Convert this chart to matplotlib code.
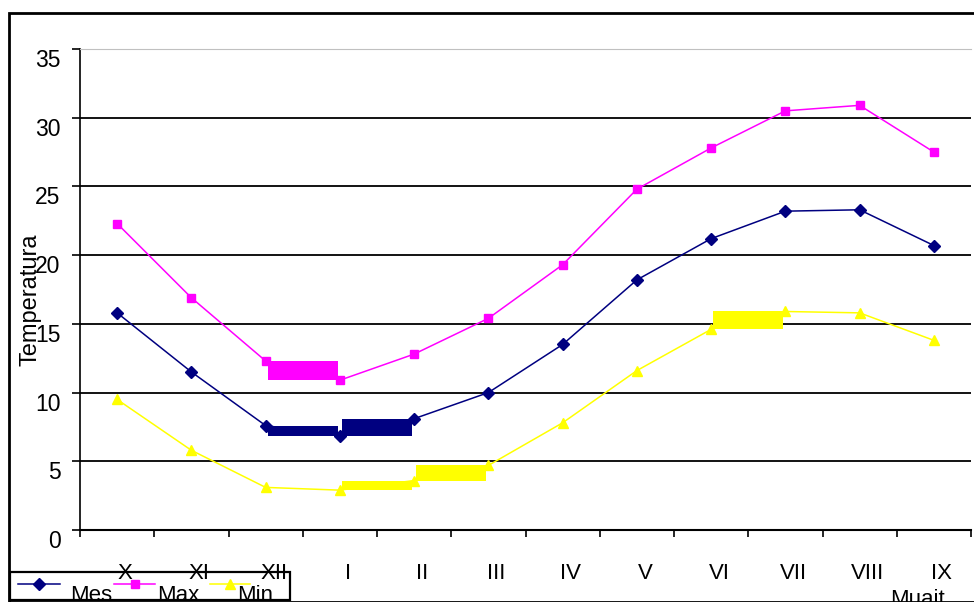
import matplotlib

matplotlib.use("Agg")
import matplotlib.pyplot as plt
import matplotlib.transforms as mtransforms
from matplotlib.lines import Line2D
from matplotlib.patches import Rectangle

plt.rcParams["font.family"] = ["Liberation Sans", "DejaVu Sans"]

# data
months = ["X", "XI", "XII", "I", "II", "III", "IV", "V", "VI", "VII", "VIII", "IX"]
mes = [15.8, 11.5, 7.6, 6.85, 8.1, 10.0, 13.5, 18.2, 21.2, 23.2, 23.3, 20.7]
tmax = [22.3, 16.9, 12.3, 10.9, 12.8, 15.4, 19.3, 24.8, 27.8, 30.5, 30.9, 27.5]
tmin = [9.5, 5.8, 3.1, 2.9, 3.6, 4.7, 7.8, 11.6, 14.6, 15.9, 15.8, 13.8]
# segments the old renderer filled as solid blocks (start index of segment)
mes_blocks = [2, 3]
max_blocks = [2]
min_blocks = [3, 4, 8]

W, H = 974, 602
fig = plt.figure(figsize=(W / 100, H / 100), dpi=100)


def px(x0, y0, x1, y1):
    return [x0 / W, 1 - y1 / H, (x1 - x0) / W, (y1 - y0) / H]


ax = fig.add_axes(px(80, 49, 971, 530))
x = list(range(len(months)))

series = [
    ("Mes", mes, "#000080", "D", 6.5, mes_blocks),
    ("Max", tmax, "#FF00FF", "s", 6, max_blocks),
    ("Min", tmin, "#FFFF00", "^", 7.5, min_blocks),
]

for name, vals, col, mk, ms, blocks in series:
    for i in blocks:
        lo, hi = min(vals[i], vals[i + 1]), max(vals[i], vals[i + 1])
        ax.fill_between([x[i] + 0.03, x[i + 1] - 0.03], lo, hi, color=col, lw=0, zorder=3)
    ax.plot(x, vals, color=col, marker=mk, ms=ms, lw=1.1, zorder=4)

ax.set_xlim(-0.5, len(months) - 0.5)
ax.set_ylim(0, 35)
ax.set_yticks(range(0, 36, 5))
ax.yaxis.grid(True, color="black", lw=1.3)
ax.set_axisbelow(True)
ax.set_xticks([i - 0.5 for i in range(len(months) + 1)])
ax.set_xticklabels([])
ax.set_xticks(x, minor=True)
ax.set_xticklabels(months, minor=True, fontsize=16)
ax.tick_params(axis="x", which="minor", length=0, pad=24)
ax.tick_params(axis="x", which="major", length=5, width=1.2, direction="out")
ax.tick_params(axis="y", length=6, width=1.2, direction="out", labelsize=16.5, pad=8)

for lab in ax.get_xticklabels(minor=True):
    lab.set_transform(lab.get_transform() + mtransforms.ScaledTranslation(8 / 100, 0, fig.dpi_scale_trans))
for lab in ax.get_yticklabels():
    lab.set_transform(lab.get_transform() + mtransforms.ScaledTranslation(0, -9 / 100, fig.dpi_scale_trans))

ax.spines["right"].set_visible(False)
ax.spines["top"].set_color("#c0c0c0")
ax.spines["left"].set_linewidth(1.2)
ax.spines["bottom"].set_linewidth(1.5)

fig.text(31 / W, 1 - 300 / H, "Temperatura", rotation=90, fontsize=17, ha="center", va="center")
fig.text(917 / W, 1 - 589 / H, "Muait", fontsize=16, ha="center", va="top")

# outer frame
fig.patches.append(Rectangle((9 / W, 0), 1.0, 1 - 13 / H, transform=fig.transFigure,
                             fill=False, ec="black", lw=2, clip_on=False))

# legend box
fig.patches.append(Rectangle((10 / W, 1 - 600 / H), 280 / W, 28 / H, transform=fig.transFigure,
                             fill=False, ec="black", lw=1.6))
leg_x = [(18, 60, 70), (114, 155, 157), (210, 250, 237)]
for (name, vals, col, mk, ms, blocks), (a, b, t) in zip(series, leg_x):
    yy = 1 - 584 / H
    fig.add_artist(Line2D([a / W, b / W], [yy, yy], color=col, lw=1.1, transform=fig.transFigure))
    fig.add_artist(Line2D([(a + b) / 2 / W], [yy], color=col, marker=mk, ms=ms, transform=fig.transFigure))
    fig.text(t / W, 1 - 585 / H, name, fontsize=16, ha="left", va="top")

fig.savefig("out.png", dpi=100)
